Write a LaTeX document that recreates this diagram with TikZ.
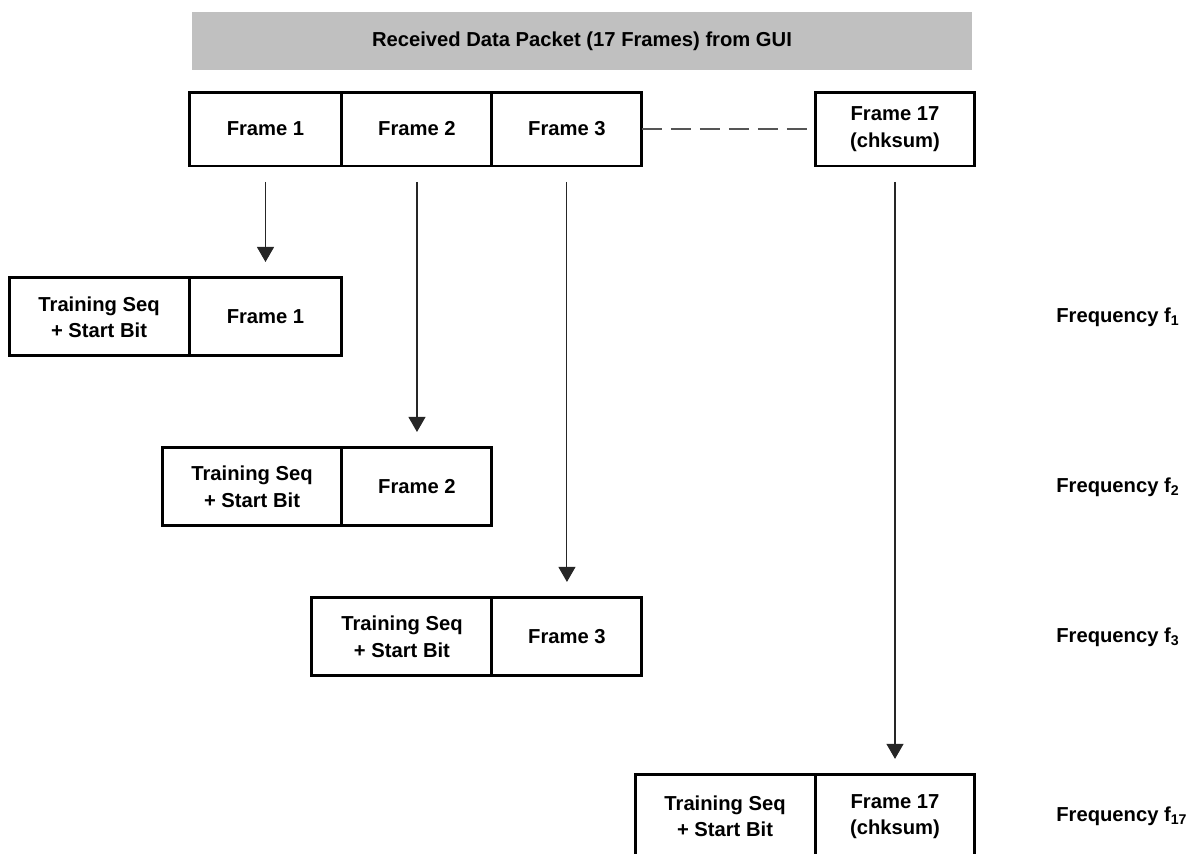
\documentclass[tikz,border=0pt]{standalone}
\usepackage{fontspec}
\setmainfont{Liberation Sans}
\usetikzlibrary{arrows.meta, positioning}

\definecolor{bandgray}{HTML}{C0C0C0}
\definecolor{dashgray}{HTML}{555555}

\begin{document}
\begin{tikzpicture}[
    x=0.02cm, y=-0.02cm,
    cell/.style={draw, line width=1.7pt, outer sep=0pt, minimum height=1.48cm,
        font=\fontsize{11.5}{15}\selectfont\bfseries, align=center, inner sep=2pt},
    seqcell/.style={cell, minimum width=3.6cm},
    feed/.style={line width=0.6pt, black!85,
        -{Triangle[length=0.3cm, width=0.34cm]},
        shorten <=0.32cm, shorten >=0.32cm},
    freq/.style={anchor=west, inner sep=0pt,
        font=\fontsize{11.5}{14}\selectfont\bfseries},
]
\useasboundingbox (0,0) rectangle (1194,853);

% =============================================================================
% Packet from the GUI
% =============================================================================
\node[fill=bandgray, minimum width=15.6cm, minimum height=1.16cm,
    font=\fontsize{11.5}{14}\selectfont\bfseries] (hdr) at (582,41)
    {Received Data Packet (17 Frames) from GUI};

\node[cell, minimum width=3.06cm] (f1) at (265.5,129) {Frame 1};
\node[cell, minimum width=3cm, right=0pt of f1] (f2) {Frame 2};
\node[cell, minimum width=3cm, right=0pt of f2] (f3) {Frame 3};
\node[cell, minimum width=3.2cm] (f17) at (895,129) {Frame 17\\(chksum)};

% frames 4 ... 16 left out
\draw[dashgray, line width=0.7pt, dash pattern=on 0.4cm off 0.18cm] (f3) -- (f17);

% =============================================================================
% Transmitted frames, one per frequency
% =============================================================================
\coordinate (fx) at (1056,0);

\foreach \k/\d/\w/\h/\txt in {1/2.24/3.06/1.56/Frame 1, 2/5.64/3/1.56/Frame 2,
    3/8.64/3/1.56/Frame 3, 17/12.18/3.2/1.66/{Frame 17\\(chksum)}} {
    \node[cell, minimum height=\h cm, minimum width=\w cm,
        below=\d cm of f\k] (fr\k) {\txt};
    \node[seqcell, minimum height=\h cm, left=0pt of fr\k] (ts\k)
        {Training Seq\\+ Start Bit};
    \draw[feed] (f\k.south) -- (f\k.south |- fr\k.north);
    \node[freq] (q\k) at (fx |- fr\k) {Frequency f\textsubscript{\k}};
}

\end{tikzpicture}
\end{document}
